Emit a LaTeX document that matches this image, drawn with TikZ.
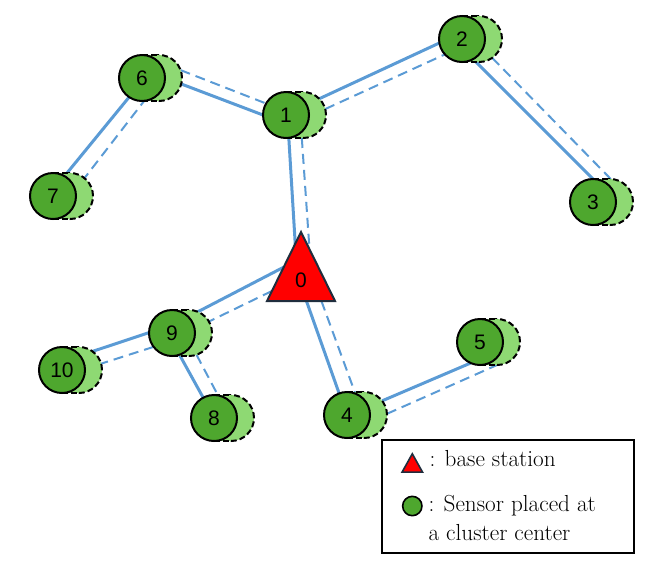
\documentclass[tikz,border=0pt]{standalone}
\usepackage{fontspec}
\newfontfamily\digitfont{Liberation Sans}
\usetikzlibrary{shapes,backgrounds,calc}
\definecolor{linkblue}{HTML}{5B9BD5}
\definecolor{sensgreen}{HTML}{4EA72E}
\definecolor{sensbody}{HTML}{8ED973}
\definecolor{stationedge}{HTML}{1F2D3D}
\tikzstyle{sensor} = [circle, draw=black, line width=1.5pt, fill=sensgreen, minimum size=34.5pt, inner sep=0pt, outer sep=0pt, font=\digitfont\fontsize{15.75}{18}\selectfont]
\tikzstyle{body} = [circle, draw=black, line width=1.5pt, dash pattern=on 4.5pt off 2.25pt, fill=sensbody, minimum size=34.5pt, inner sep=0pt, outer sep=0pt]
\tikzstyle{bodyedge} = [black, line width=1.5pt, dash pattern=on 4.5pt off 2.25pt]
\tikzstyle{station} = [isosceles triangle, isosceles triangle stretches, shape border rotate=90, minimum width=51pt, minimum height=51.75pt, inner sep=0pt, outer sep=0pt, draw=stationedge, line width=1.5pt, fill=red, font=\digitfont\fontsize{15.75}{18}\selectfont]
\tikzstyle{wire} = [linkblue, line width=2.25pt]
\tikzstyle{wiredash} = [linkblue, line width=1.5pt, dash pattern=on 7.5pt off 4.5pt]
\tikzstyle{keytext} = [inner sep=0pt, font=\fontsize{17.4}{21.2}\selectfont]

\begin{document}
\begin{tikzpicture}[x=0.75pt, y=0.75pt]
\useasboundingbox (0,0) rectangle (666,-565);

% sensors: light body behind, dark face in front
\foreach \id/\x/\y in {1/286/115, 2/462/39, 3/593/202, 4/347/415, 5/480/342, 6/142/78, 7/53/196, 8/214/418, 9/172/333, 10/62/370}{
  \node[body] (l\id) at (\x+17,-\y) {};
  \fill[sensbody] (\x,-\y+23) rectangle (\x+17,-\y-23);
  \draw[bodyedge] (\x,-\y+23) -- (\x+17,-\y+23) (\x,-\y-23) -- (\x+17,-\y-23);
  \node[sensor] (s\id) at (\x,-\y) {\id};
}

\node[station, anchor=apex] (b0) at (301,-232) {0};

% links
\begin{pgfonlayer}{background}
\draw[wire] (l6.-15) -- (s1.180);
\draw[wiredash] (l6.20) -- (s1.150);
\draw[wire] (s6.-124) -- (s7.60);
\draw[wiredash] (l6.-122) -- (l7.51);
\draw[wire] (l1.45) -- (s2.190);
\draw[wiredash] (l1.15) -- (s2.222);
\draw[wire] (s2.-61) -- (s3.90);
\draw[wiredash] (l2.-55) -- (l3.88);
\draw[wire] (s1.-83) -- ($(b0.apex)!0.17!(b0.left corner)$);
\draw[wiredash] (l1.-93) -- ($(b0.apex)!0.25!(b0.right corner)$);
\draw[wire] ($(b0.apex)!0.51!(b0.left corner)$) -- (s9.45);
\draw[wiredash] ($(b0.apex)!0.855!(b0.left corner)$) -- (l9.30);
\draw[wire] (s9.179) -- (l10.54);
\draw[wiredash] (s9.217) -- (l10.16);
\draw[wire] (s9.-71) -- (s8.118);
\draw[wiredash] (l9.-71) -- (s8.80);
\draw[wire] ($(b0.left corner)!0.58!(b0.right corner)$) -- (s4.110);
\draw[wiredash] ($(b0.left corner)!0.8!(b0.right corner)$) -- (l4.112);
\draw[wire] (l4.38) -- (s5.246);
\draw[wiredash] (l4.3) -- (l5.270);
\end{pgfonlayer}

% legend
\node[draw=black, line width=1.5pt, minimum width=189pt, minimum height=85pt, inner sep=0pt] (legend) at (508.3,-496.7) {};
\node[isosceles triangle, isosceles triangle stretches, shape border rotate=90, minimum width=15.3pt, minimum height=13.7pt, inner sep=0pt, draw=stationedge, line width=1.2pt, fill=red, anchor=apex] (keytri) at (412.3,-451.7) {};
\node[circle, draw=black, line width=1.2pt, fill=sensgreen, minimum size=14.5pt, inner sep=0pt] (keydot) at (412.3,-506) {};
\node[keytext, anchor=base west] (keystation) at (429.3,-466.7) {: base station};
\node[keytext, anchor=base west, align=left] (keysensor) at (428.3,-540) {: Sensor placed at\\a cluster center};

\end{tikzpicture}
\end{document}
